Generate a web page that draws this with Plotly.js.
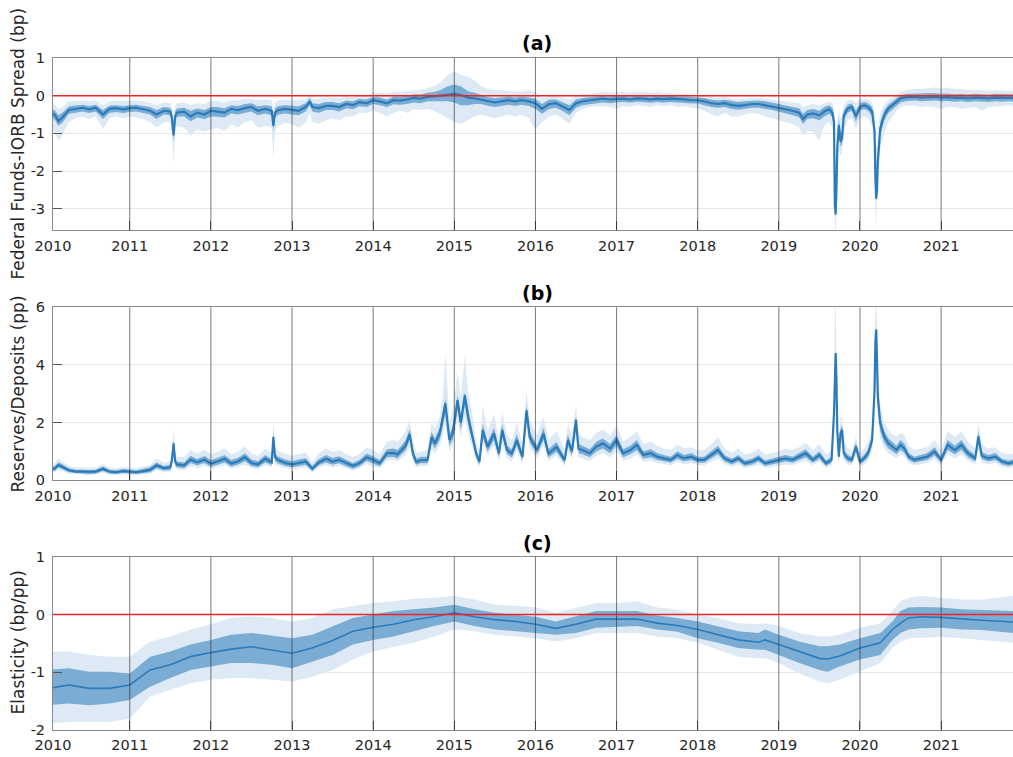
<!DOCTYPE html>
<html>
<head>
<meta charset="utf-8">
<script src="https://cdn.plot.ly/plotly-3.0.1.min.js"></script>
<style>html,body{margin:0;padding:0;background:#fff;}#chart{width:1013px;height:757px;}</style>
</head>
<body>
<div id="chart"></div>
<script>
// ---------------- Panel (a): Federal Funds-IORB spread (bp) ----------------
const tA = [2010.00,2010.08,2010.12,2010.17,2010.25,2010.33,2010.42,2010.50,2010.58,2010.67,2010.75,2010.83,2010.92,
2011.00,2011.08,2011.17,2011.25,2011.33,2011.42,2011.50,2011.52,2011.54,2011.56,2011.58,2011.67,2011.75,2011.83,2011.92,
2012.00,2012.08,2012.17,2012.25,2012.33,2012.42,2012.50,2012.58,2012.67,2012.75,2012.77,2012.79,2012.83,2012.92,
2013.00,2013.08,2013.17,2013.22,2013.25,2013.33,2013.42,2013.50,2013.58,2013.67,2013.75,2013.83,2013.92,
2014.00,2014.08,2014.17,2014.25,2014.33,2014.42,2014.50,2014.58,2014.67,2014.75,2014.83,2014.92,
2015.00,2015.08,2015.17,2015.25,2015.33,2015.42,2015.50,2015.58,2015.67,2015.75,2015.83,2015.92,
2016.00,2016.08,2016.17,2016.25,2016.33,2016.42,2016.50,2016.58,2016.67,2016.75,2016.83,2016.92,
2017.00,2017.08,2017.17,2017.25,2017.33,2017.42,2017.50,2017.58,2017.67,2017.75,2017.83,2017.92,
2018.00,2018.08,2018.17,2018.25,2018.33,2018.42,2018.50,2018.58,2018.67,2018.75,2018.83,2018.92,
2019.00,2019.08,2019.17,2019.25,2019.30,2019.35,2019.42,2019.50,2019.56,2019.62,2019.66,2019.68,2019.69,2019.70,2019.71,2019.72,2019.74,2019.76,2019.78,2019.80,2019.85,2019.90,2019.95,
2020.00,2020.05,2020.10,2020.15,2020.18,2020.19,2020.20,2020.21,2020.22,2020.25,2020.30,2020.35,2020.40,2020.45,2020.50,2020.58,2020.67,2020.75,2020.83,2020.92,
2021.00,2021.08,2021.17,2021.25,2021.33,2021.42,2021.50,2021.58,2021.67,2021.75,2021.83,2021.89];
const aMed = [-0.38,-0.52,-0.68,-0.58,-0.38,-0.35,-0.32,-0.36,-0.32,-0.50,-0.35,-0.33,-0.36,
-0.33,-0.32,-0.36,-0.40,-0.50,-0.40,-0.42,-0.60,-1.05,-0.55,-0.45,-0.42,-0.55,-0.45,-0.50,
-0.40,-0.42,-0.45,-0.35,-0.38,-0.33,-0.30,-0.40,-0.35,-0.40,-0.80,-0.45,-0.38,-0.35,
-0.38,-0.40,-0.30,-0.15,-0.30,-0.33,-0.27,-0.27,-0.30,-0.22,-0.25,-0.17,-0.20,
-0.12,-0.15,-0.20,-0.12,-0.13,-0.10,-0.06,-0.08,-0.03,-0.02,0.00,0.03,
0.05,0.02,-0.05,-0.07,-0.10,-0.15,-0.18,-0.15,-0.12,-0.15,-0.12,-0.15,
-0.20,-0.35,-0.22,-0.20,-0.28,-0.38,-0.20,-0.15,-0.12,-0.10,-0.08,-0.10,
-0.08,-0.08,-0.10,-0.07,-0.08,-0.10,-0.08,-0.09,-0.08,-0.10,-0.10,-0.12,
-0.12,-0.15,-0.20,-0.22,-0.20,-0.25,-0.27,-0.25,-0.22,-0.22,-0.25,-0.28,
-0.32,-0.36,-0.40,-0.45,-0.62,-0.50,-0.47,-0.52,-0.42,-0.36,-0.45,-0.70,-2.90,-3.15,-2.50,-1.40,-0.78,-1.22,-1.13,-0.52,-0.34,-0.30,-0.55,
-0.30,-0.25,-0.30,-0.42,-0.95,-2.20,-2.73,-2.50,-1.75,-0.87,-0.51,-0.34,-0.25,-0.16,-0.07,-0.04,-0.03,-0.05,-0.04,-0.03,
-0.05,-0.04,-0.06,-0.05,-0.07,-0.05,-0.06,-0.07,-0.05,-0.06,-0.05,-0.06];
const aLo68 = [-0.50,-0.65,-0.80,-0.72,-0.48,-0.45,-0.42,-0.46,-0.42,-0.62,-0.45,-0.43,-0.46,
-0.43,-0.42,-0.46,-0.50,-0.62,-0.50,-0.52,-0.75,-1.20,-0.70,-0.56,-0.55,-0.68,-0.58,-0.62,
-0.55,-0.56,-0.58,-0.47,-0.50,-0.45,-0.42,-0.52,-0.47,-0.52,-0.95,-0.58,-0.50,-0.47,
-0.50,-0.52,-0.42,-0.25,-0.42,-0.45,-0.38,-0.38,-0.42,-0.33,-0.36,-0.28,-0.30,
-0.22,-0.25,-0.30,-0.23,-0.24,-0.22,-0.18,-0.20,-0.15,-0.15,-0.15,-0.15,
-0.18,-0.25,-0.25,-0.22,-0.22,-0.27,-0.30,-0.28,-0.24,-0.27,-0.24,-0.27,
-0.35,-0.48,-0.35,-0.32,-0.40,-0.52,-0.32,-0.25,-0.22,-0.20,-0.18,-0.20,
-0.18,-0.17,-0.19,-0.16,-0.17,-0.19,-0.17,-0.18,-0.17,-0.19,-0.19,-0.21,
-0.21,-0.25,-0.30,-0.32,-0.30,-0.35,-0.37,-0.35,-0.32,-0.32,-0.35,-0.38,
-0.42,-0.47,-0.52,-0.57,-0.75,-0.62,-0.60,-0.65,-0.55,-0.48,-0.58,-0.90,-3.00,-3.20,-2.70,-1.60,-0.95,-1.35,-1.28,-0.65,-0.45,-0.40,-0.70,
-0.40,-0.35,-0.40,-0.55,-1.15,-2.40,-2.80,-2.70,-1.90,-1.05,-0.65,-0.46,-0.36,-0.27,-0.18,-0.14,-0.13,-0.15,-0.14,-0.13,
-0.15,-0.14,-0.16,-0.15,-0.17,-0.15,-0.16,-0.17,-0.15,-0.16,-0.15,-0.16];
const aHi68 = [-0.28,-0.40,-0.52,-0.45,-0.28,-0.26,-0.24,-0.27,-0.24,-0.38,-0.26,-0.25,-0.27,
-0.25,-0.24,-0.27,-0.30,-0.38,-0.30,-0.32,-0.45,-0.85,-0.42,-0.34,-0.32,-0.40,-0.34,-0.38,
-0.30,-0.30,-0.33,-0.25,-0.27,-0.22,-0.20,-0.28,-0.25,-0.28,-0.65,-0.33,-0.27,-0.25,
-0.27,-0.28,-0.20,-0.06,-0.20,-0.22,-0.17,-0.17,-0.20,-0.13,-0.15,-0.08,-0.10,
-0.03,-0.05,-0.10,-0.02,-0.03,0.00,0.04,0.03,0.08,0.10,0.15,0.25,
0.30,0.25,0.12,0.08,0.02,-0.04,-0.07,-0.05,-0.02,-0.05,-0.02,-0.05,
-0.08,-0.22,-0.10,-0.10,-0.18,-0.25,-0.10,-0.06,-0.04,-0.02,0.00,-0.02,
0.00,0.00,-0.02,0.01,0.00,-0.02,0.00,-0.01,0.00,-0.02,-0.02,-0.04,
-0.04,-0.06,-0.11,-0.13,-0.11,-0.15,-0.17,-0.15,-0.13,-0.13,-0.15,-0.18,
-0.22,-0.26,-0.30,-0.33,-0.48,-0.38,-0.35,-0.40,-0.30,-0.25,-0.32,-0.50,-2.40,-2.70,-2.10,-1.10,-0.60,-1.00,-0.90,-0.40,-0.24,-0.20,-0.40,
-0.20,-0.16,-0.20,-0.30,-0.70,-1.80,-2.20,-2.00,-1.40,-0.70,-0.38,-0.24,-0.16,-0.07,0.02,0.05,0.06,0.05,0.06,0.07,
0.05,0.06,0.04,0.05,0.03,0.05,0.04,0.03,0.05,0.04,0.05,0.04];
const aLo90 = [-0.75,-1.00,-1.20,-1.05,-0.70,-0.60,-0.55,-0.62,-0.55,-0.88,-0.60,-0.55,-0.60,
-0.55,-0.58,-0.62,-0.70,-0.85,-0.70,-0.72,-1.00,-1.80,-0.95,-0.80,-0.85,-1.05,-0.90,-0.95,
-0.90,-0.85,-0.95,-0.75,-0.85,-0.70,-0.65,-0.85,-0.80,-0.85,-1.65,-0.95,-0.80,-0.72,
-0.75,-0.85,-0.70,-0.45,-0.70,-0.75,-0.65,-0.60,-0.65,-0.55,-0.55,-0.45,-0.45,
-0.40,-0.45,-0.55,-0.45,-0.40,-0.45,-0.35,-0.38,-0.35,-0.40,-0.50,-0.60,
-0.70,-0.75,-0.65,-0.55,-0.50,-0.55,-0.60,-0.55,-0.50,-0.55,-0.50,-0.60,
-0.90,-0.70,-0.55,-0.50,-0.60,-0.75,-0.45,-0.35,-0.30,-0.30,-0.28,-0.30,
-0.35,-0.28,-0.30,-0.25,-0.28,-0.30,-0.25,-0.28,-0.25,-0.30,-0.28,-0.32,
-0.33,-0.40,-0.50,-0.55,-0.45,-0.55,-0.55,-0.50,-0.45,-0.48,-0.55,-0.60,
-0.65,-0.70,-0.75,-0.85,-1.05,-0.95,-0.95,-1.20,-0.80,-0.70,-0.85,-1.20,-3.50,-3.60,-3.20,-2.20,-1.40,-1.60,-1.50,-0.95,-0.65,-0.60,-0.90,
-0.60,-0.55,-0.60,-0.80,-1.50,-3.00,-3.50,-3.20,-2.30,-1.40,-1.00,-0.70,-0.55,-0.40,-0.30,-0.25,-0.25,-0.30,-0.28,-0.30,
-0.35,-0.30,-0.30,-0.35,-0.32,-0.30,-0.40,-0.30,-0.28,-0.28,-0.25,-0.28];
const aHi90 = [-0.15,-0.25,-0.35,-0.30,-0.15,-0.15,-0.12,-0.15,-0.12,-0.25,-0.15,-0.13,-0.15,
-0.13,-0.12,-0.15,-0.18,-0.25,-0.18,-0.20,-0.30,-0.50,-0.28,-0.20,-0.18,-0.25,-0.20,-0.22,
-0.15,-0.15,-0.18,-0.12,-0.12,-0.08,-0.08,-0.12,-0.10,-0.12,-0.35,-0.20,-0.12,-0.10,
-0.12,-0.12,-0.08,0.02,-0.08,-0.08,-0.05,-0.05,-0.06,-0.02,-0.04,0.02,0.02,
0.08,0.08,0.05,0.10,0.10,0.12,0.15,0.15,0.20,0.25,0.35,0.55,
0.65,0.55,0.50,0.40,0.25,0.18,0.15,0.15,0.12,0.12,0.10,0.15,
0.10,-0.05,0.00,0.00,-0.05,-0.10,0.00,0.05,0.05,0.08,0.10,0.08,
0.10,0.10,0.08,0.10,0.10,0.08,0.10,0.08,0.07,0.05,0.05,0.03,
0.02,0.00,-0.03,-0.05,-0.03,-0.08,-0.10,-0.08,-0.06,-0.06,-0.08,-0.10,
-0.12,-0.15,-0.18,-0.20,-0.30,-0.25,-0.22,-0.25,-0.20,-0.15,-0.20,-0.35,-1.50,-1.80,-1.20,-0.70,-0.40,-0.60,-0.55,-0.25,-0.12,-0.10,-0.20,
-0.10,-0.08,-0.10,-0.18,-0.40,-1.10,-1.40,-1.30,-0.90,-0.45,-0.25,-0.12,-0.05,0.02,0.10,0.15,0.18,0.18,0.20,0.22,
0.20,0.22,0.18,0.18,0.15,0.15,0.15,0.12,0.15,0.12,0.12,0.12];

// ---------------- Panel (b): Reserves/Deposits (pp) ----------------
const tB = [2010.00,2010.08,2010.12,2010.17,2010.25,2010.33,2010.42,2010.50,2010.58,2010.67,2010.75,2010.83,2010.92,
2011.00,2011.08,2011.17,2011.25,2011.33,2011.42,2011.50,2011.52,2011.54,2011.56,2011.58,2011.67,2011.75,2011.83,2011.92,
2012.00,2012.08,2012.17,2012.25,2012.33,2012.42,2012.50,2012.58,2012.67,2012.75,2012.77,2012.79,2012.83,2012.92,
2013.00,2013.08,2013.17,2013.25,2013.33,2013.42,2013.50,2013.58,2013.67,2013.75,2013.83,2013.92,
2014.00,2014.08,2014.17,2014.25,2014.30,2014.35,2014.40,2014.45,2014.49,2014.53,2014.59,2014.67,2014.72,2014.76,2014.82,2014.86,2014.89,2014.94,2014.98,
2015.04,2015.08,2015.13,2015.17,2015.21,2015.27,2015.31,2015.35,2015.41,2015.49,2015.55,2015.59,2015.65,2015.71,2015.77,2015.84,2015.89,2015.93,
2016.02,2016.10,2016.16,2016.26,2016.36,2016.40,2016.45,2016.50,2016.53,2016.58,2016.67,2016.75,2016.83,2016.92,
2017.00,2017.08,2017.17,2017.25,2017.33,2017.42,2017.50,2017.58,2017.67,2017.75,2017.83,2017.92,
2018.00,2018.08,2018.17,2018.25,2018.33,2018.42,2018.50,2018.58,2018.67,2018.75,2018.83,2018.92,
2019.00,2019.08,2019.17,2019.25,2019.33,2019.42,2019.50,2019.58,2019.65,2019.68,2019.69,2019.70,2019.71,2019.72,2019.74,2019.76,2019.78,2019.80,2019.85,2019.90,2019.95,
2020.00,2020.05,2020.10,2020.15,2020.18,2020.19,2020.20,2020.21,2020.22,2020.25,2020.30,2020.35,2020.40,2020.45,2020.50,2020.55,2020.60,2020.67,2020.75,2020.83,2020.92,
2021.00,2021.08,2021.17,2021.25,2021.33,2021.42,2021.46,2021.50,2021.58,2021.67,2021.75,2021.83,2021.89];
const bMed = [0.36,0.42,0.53,0.47,0.35,0.30,0.30,0.28,0.30,0.40,0.30,0.28,0.32,
0.30,0.28,0.32,0.36,0.52,0.42,0.45,0.70,1.28,0.65,0.55,0.52,0.72,0.62,0.72,
0.58,0.65,0.75,0.58,0.65,0.80,0.60,0.55,0.75,0.62,1.50,0.80,0.70,0.60,
0.55,0.60,0.65,0.40,0.62,0.75,0.65,0.71,0.59,0.50,0.59,0.80,
0.71,0.59,0.94,0.95,0.90,1.05,1.20,1.60,0.93,0.64,0.70,0.70,1.50,1.28,1.62,2.20,2.67,1.40,1.62,
2.78,2.00,2.95,2.20,1.68,0.93,0.64,1.74,1.16,1.62,0.93,1.74,1.05,0.93,1.40,0.81,2.43,1.50,
1.05,1.62,0.93,1.16,0.70,1.40,1.00,2.10,1.10,1.05,0.94,1.17,1.28,1.10,
1.40,0.94,1.05,1.23,0.88,0.94,0.82,0.76,0.71,0.88,0.76,0.82,
0.71,0.71,0.88,1.05,0.76,0.65,0.76,0.59,0.65,0.76,0.59,0.65,
0.71,0.76,0.71,0.82,0.94,0.71,0.88,0.59,0.71,2.33,4.20,4.41,3.50,1.75,0.82,1.63,1.75,0.94,0.76,0.71,1.17,
0.65,0.76,0.94,1.40,3.13,4.80,5.23,4.20,2.90,1.98,1.52,1.28,1.17,1.05,1.23,1.10,0.82,0.71,0.76,0.82,1.00,
0.71,1.23,1.05,1.23,0.94,0.76,1.52,0.85,0.76,0.82,0.65,0.59,0.62];
const bLo68 = [0.29,0.34,0.44,0.38,0.28,0.24,0.24,0.22,0.24,0.32,0.24,0.22,0.25,
0.24,0.22,0.25,0.28,0.42,0.34,0.36,0.56,1.08,0.52,0.45,0.42,0.60,0.52,0.60,
0.47,0.54,0.62,0.48,0.54,0.66,0.50,0.45,0.62,0.52,1.30,0.66,0.58,0.50,
0.45,0.50,0.54,0.32,0.52,0.62,0.54,0.59,0.49,0.40,0.49,0.67,
0.59,0.49,0.80,0.81,0.76,0.90,1.03,1.40,0.79,0.54,0.59,0.59,1.30,1.10,1.40,1.90,2.30,1.20,1.40,
2.45,1.75,2.60,1.95,1.45,0.79,0.54,1.50,0.99,1.40,0.79,1.50,0.90,0.79,1.20,0.69,2.10,1.30,
0.90,1.40,0.79,0.99,0.59,1.20,0.86,1.80,0.94,0.90,0.80,1.00,1.10,0.94,
1.20,0.80,0.90,1.05,0.75,0.80,0.70,0.65,0.61,0.75,0.65,0.70,
0.61,0.61,0.75,0.90,0.65,0.55,0.65,0.50,0.55,0.65,0.50,0.55,
0.61,0.65,0.61,0.70,0.80,0.61,0.75,0.50,0.61,2.00,3.70,3.90,3.00,1.50,0.70,1.40,1.50,0.80,0.65,0.61,1.00,
0.55,0.65,0.80,1.20,2.70,4.20,4.60,3.70,2.50,1.70,1.30,1.10,1.00,0.90,1.05,0.94,0.70,0.61,0.65,0.70,0.86,
0.61,1.05,0.90,1.05,0.80,0.65,1.30,0.73,0.65,0.70,0.55,0.50,0.53];
const bHi68 = [0.44,0.50,0.62,0.56,0.42,0.37,0.37,0.35,0.37,0.48,0.37,0.35,0.39,
0.37,0.35,0.40,0.45,0.62,0.50,0.54,0.84,1.40,0.78,0.65,0.62,0.85,0.74,0.84,
0.70,0.77,0.88,0.70,0.77,0.94,0.72,0.66,0.88,0.74,1.65,0.94,0.82,0.72,
0.66,0.72,0.77,0.50,0.74,0.88,0.77,0.83,0.70,0.60,0.70,0.93,
0.83,0.70,1.08,1.10,1.05,1.20,1.38,1.78,1.08,0.76,0.82,0.82,1.68,1.45,1.82,2.45,2.85,1.60,1.85,
2.95,2.25,3.05,2.45,1.90,1.08,0.76,1.95,1.33,1.82,1.08,1.95,1.20,1.08,1.60,0.95,2.60,1.70,
1.20,1.82,1.08,1.33,0.82,1.60,1.15,2.25,1.26,1.20,1.08,1.34,1.45,1.26,
1.58,1.08,1.20,1.40,1.01,1.08,0.95,0.88,0.82,1.01,0.88,0.95,
0.82,0.82,1.01,1.20,0.88,0.75,0.88,0.69,0.75,0.88,0.69,0.75,
0.82,0.88,0.82,0.95,1.08,0.82,1.01,0.69,0.82,2.50,4.35,4.50,3.70,1.95,0.95,1.80,1.90,1.08,0.88,0.82,1.30,
0.75,0.88,1.08,1.58,3.30,5.00,5.30,4.40,3.10,2.20,1.70,1.45,1.34,1.20,1.40,1.26,0.95,0.82,0.88,0.95,1.15,
0.82,1.40,1.20,1.40,1.08,0.88,1.70,0.98,0.88,0.95,0.75,0.69,0.72];
const bLo90 = [0.24,0.28,0.36,0.31,0.23,0.20,0.19,0.18,0.19,0.26,0.19,0.18,0.20,
0.19,0.18,0.20,0.22,0.35,0.28,0.30,0.46,0.90,0.42,0.38,0.35,0.50,0.42,0.50,
0.40,0.45,0.52,0.40,0.45,0.55,0.42,0.38,0.52,0.44,1.05,0.55,0.48,0.42,
0.38,0.42,0.45,0.26,0.44,0.52,0.45,0.50,0.42,0.34,0.42,0.56,
0.50,0.42,0.68,0.70,0.65,0.76,0.88,1.15,0.67,0.46,0.50,0.50,1.10,0.92,1.20,1.60,1.95,1.00,1.20,
2.10,1.50,2.20,1.65,1.25,0.67,0.46,1.30,0.85,1.20,0.67,1.30,0.76,0.67,1.02,0.58,1.80,1.10,
0.76,1.20,0.67,0.85,0.50,1.02,0.73,1.50,0.80,0.76,0.68,0.85,0.95,0.80,
1.02,0.68,0.76,0.90,0.64,0.68,0.60,0.55,0.52,0.64,0.55,0.60,
0.52,0.52,0.64,0.76,0.55,0.47,0.55,0.43,0.47,0.55,0.43,0.47,
0.52,0.55,0.52,0.60,0.68,0.52,0.64,0.43,0.52,1.70,3.00,3.20,2.50,1.30,0.60,1.20,1.30,0.68,0.55,0.52,0.85,
0.47,0.55,0.68,1.02,2.30,3.50,3.80,3.20,2.10,1.45,1.10,0.92,0.85,0.76,0.90,0.80,0.60,0.52,0.55,0.60,0.73,
0.52,0.90,0.76,0.90,0.68,0.55,1.10,0.62,0.55,0.60,0.47,0.43,0.45];
const bHi90 = [0.52,0.60,0.75,0.66,0.50,0.44,0.44,0.42,0.44,0.56,0.44,0.42,0.46,
0.44,0.42,0.48,0.54,0.76,0.62,0.65,1.00,1.75,0.95,0.80,0.82,1.05,0.92,1.05,
0.90,0.98,1.10,0.90,0.98,1.18,0.92,0.85,1.10,0.95,2.00,1.20,1.02,0.92,
0.85,0.90,0.98,0.62,0.95,1.10,0.98,1.05,0.90,0.80,0.90,1.15,
1.05,0.90,1.35,1.40,1.35,1.50,1.70,2.10,1.40,0.95,1.00,1.05,2.00,1.80,2.20,3.00,4.40,2.00,2.40,
3.70,2.90,4.35,3.10,2.50,1.40,0.95,2.60,1.70,2.30,1.40,2.40,1.55,1.40,2.00,1.25,3.10,2.10,
1.55,2.20,1.40,1.70,1.05,1.95,1.50,2.60,1.60,1.50,1.40,1.65,1.75,1.55,
1.90,1.35,1.50,1.70,1.25,1.35,1.20,1.10,1.05,1.25,1.10,1.15,
1.05,1.05,1.25,1.50,1.10,0.95,1.10,0.90,0.95,1.10,0.90,0.95,
1.00,1.10,1.05,1.15,1.30,1.05,1.25,0.90,1.00,3.00,6.00,6.00,4.50,2.60,1.30,2.20,2.20,1.40,1.10,1.00,1.50,
0.95,1.10,1.30,1.90,4.50,6.00,6.00,5.50,4.00,2.60,2.00,1.75,1.60,1.50,1.65,1.55,1.20,1.05,1.10,1.15,1.40,
1.05,1.70,1.50,1.70,1.35,1.10,2.00,1.25,1.10,1.15,0.95,0.90,0.92];

// ---------------- Panel (c): Elasticity (bp/pp) ----------------
const tC = [2010.00,2010.25,2010.50,2010.75,2011.00,2011.25,2011.50,2011.75,2012.00,2012.25,2012.50,2012.75,
2013.00,2013.25,2013.50,2013.75,2014.00,2014.25,2014.50,2014.75,2015.00,2015.25,2015.50,2015.75,
2016.00,2016.25,2016.50,2016.75,2017.00,2017.25,2017.50,2017.75,2018.00,2018.25,2018.50,2018.75,2018.83,
2019.00,2019.25,2019.50,2019.60,2019.75,2020.00,2020.25,2020.40,2020.50,2020.60,2020.75,2021.00,2021.25,2021.50,2021.89];
const cMed = [-1.28,-1.22,-1.28,-1.28,-1.22,-0.96,-0.87,-0.73,-0.66,-0.60,-0.56,-0.61,
-0.67,-0.58,-0.45,-0.29,-0.22,-0.17,-0.09,-0.04,0.03,-0.04,-0.09,-0.12,
-0.17,-0.24,-0.17,-0.08,-0.08,-0.08,-0.15,-0.19,-0.26,-0.35,-0.44,-0.48,-0.44,
-0.52,-0.64,-0.76,-0.77,-0.72,-0.58,-0.49,-0.26,-0.15,-0.06,-0.04,-0.05,-0.08,-0.10,-0.13];
const cLo68 = [-1.57,-1.54,-1.57,-1.54,-1.48,-1.25,-1.10,-0.96,-0.90,-0.84,-0.84,-0.87,
-0.93,-0.81,-0.70,-0.52,-0.44,-0.38,-0.29,-0.20,-0.12,-0.20,-0.26,-0.29,
-0.32,-0.35,-0.32,-0.23,-0.22,-0.20,-0.26,-0.30,-0.41,-0.49,-0.58,-0.61,-0.61,
-0.70,-0.84,-0.96,-0.99,-0.90,-0.78,-0.70,-0.44,-0.32,-0.26,-0.24,-0.23,-0.26,-0.27,-0.32];
const cHi68 = [-0.96,-0.93,-0.99,-0.99,-1.02,-0.73,-0.64,-0.52,-0.44,-0.35,-0.32,-0.37,
-0.41,-0.35,-0.20,-0.06,0.00,0.06,0.09,0.12,0.17,0.09,0.03,0.00,
-0.04,-0.12,-0.03,0.06,0.06,0.06,-0.02,-0.06,-0.12,-0.20,-0.29,-0.32,-0.26,
-0.35,-0.47,-0.55,-0.55,-0.52,-0.41,-0.32,-0.12,0.06,0.12,0.13,0.12,0.09,0.08,0.06];
const cLo90 = [-1.89,-1.86,-1.86,-1.86,-1.80,-1.42,-1.31,-1.19,-1.13,-1.10,-1.10,-1.13,
-1.16,-1.08,-0.96,-0.78,-0.64,-0.56,-0.49,-0.38,-0.26,-0.29,-0.35,-0.38,
-0.41,-0.47,-0.41,-0.32,-0.32,-0.32,-0.38,-0.41,-0.49,-0.61,-0.73,-0.76,-0.76,
-0.84,-1.02,-1.16,-1.19,-1.13,-0.99,-0.84,-0.58,-0.47,-0.41,-0.41,-0.39,-0.41,-0.44,-0.49];
const cHi90 = [-0.64,-0.64,-0.70,-0.73,-0.73,-0.47,-0.38,-0.26,-0.17,-0.06,-0.03,-0.06,
-0.12,-0.06,0.09,0.15,0.20,0.23,0.27,0.29,0.32,0.26,0.17,0.15,
0.12,0.03,0.12,0.20,0.20,0.23,0.12,0.08,0.00,-0.06,-0.15,-0.17,-0.15,
-0.20,-0.32,-0.38,-0.38,-0.35,-0.23,-0.15,0.06,0.23,0.29,0.32,0.29,0.26,0.26,0.32];

// x-axis: data window starts a few weeks into 2010; first tick label sits at the axis start
const X0 = 2010.054, X1 = 2021.886;
const yearTicks = [X0,2011,2012,2013,2014,2015,2016,2017,2018,2019,2020,2021];
const yearLabels = ['2010','2011','2012','2013','2014','2015','2016','2017','2018','2019','2020','2021'];
const yearLines = [2011,2012,2013,2014,2015,2016,2017,2018,2019,2020,2021];

// ---------------- styling ----------------
const COL_MED = '#2b7bba', COL_DARK = 'rgb(123,173,212)', COL_LIGHT = 'rgb(221,233,244)';
const FONT = 'DejaVu Sans, Liberation Sans, sans-serif';

function band(t, lo, hi, color, xa, ya) {
  return {x: t.concat(t.slice().reverse()), y: hi.concat(lo.slice().reverse()),
    type: 'scatter', mode: 'lines', fill: 'toself', fillcolor: color,
    line: {width: 0, color: color}, hoverinfo: 'skip', showlegend: false, xaxis: xa, yaxis: ya};
}
function med(t, y, w, xa, ya) {
  return {x: t, y: y, type: 'scatter', mode: 'lines', line: {color: COL_MED, width: w},
    showlegend: false, xaxis: xa, yaxis: ya};
}

const traces = [
  band(tA, aLo90, aHi90, COL_LIGHT, 'x', 'y'), band(tA, aLo68, aHi68, COL_DARK, 'x', 'y'), med(tA, aMed, 2.2, 'x', 'y'),
  band(tB, bLo90, bHi90, COL_LIGHT, 'x2', 'y2'), band(tB, bLo68, bHi68, COL_DARK, 'x2', 'y2'), med(tB, bMed, 2.2, 'x2', 'y2'),
  band(tC, cLo90, cHi90, COL_LIGHT, 'x3', 'y3'), band(tC, cLo68, cHi68, COL_DARK, 'x3', 'y3'), med(tC, cMed, 1.6, 'x3', 'y3')
];

function xax(anchor) {
  return {anchor: anchor, domain: [0, 1], range: [X0, X1], tickmode: 'array', tickvals: yearTicks, ticktext: yearLabels,
    showgrid: false, zeroline: false, showline: true, linecolor: '#8a8a8a', linewidth: 1, mirror: true,
    ticks: 'inside', ticklen: 9, tickcolor: '#555', ticklabelstandoff: 2,
    tickfont: {family: FONT, size: 14.5, color: '#262626'}};
}
function yax(anchor, dom, rng, vals) {
  return {anchor: anchor, domain: dom, range: rng, tickmode: 'array', tickvals: vals, ticktext: vals.map(v => String(v)),
    showgrid: true, gridcolor: '#e6e6e6', gridwidth: 1, zeroline: false, showline: true, linecolor: '#8a8a8a', linewidth: 1,
    ticks: 'inside', ticklen: 9, tickcolor: '#555', ticklabelstandoff: 4,
    tickfont: {family: FONT, size: 14.5, color: '#262626'}};
}
const H = 757;
const dom = (top, bot) => [1 - bot / H, 1 - top / H];

const shapes = [];
[['x', 'y'], ['x2', 'y2'], ['x3', 'y3']].forEach(([xa, ya]) => {
  yearLines.forEach(yr => shapes.push({type: 'line', xref: xa, yref: ya + ' domain', x0: yr, x1: yr, y0: 0, y1: 1,
    line: {color: 'rgba(40,40,40,0.62)', width: 1}, layer: 'above'}));
});
[['x', 'y'], ['x3', 'y3']].forEach(([xa, ya]) => shapes.push({type: 'line', xref: xa + ' domain', yref: ya, x0: 0, x1: 1, y0: 0, y1: 0,
  line: {color: 'rgb(240,35,35)', width: 1.5}, layer: 'above'}));

const PX = x => (x - 53) / 960;
const PY = y => 1 - y / H;
const annotations = [
  {text: '<b>(a)</b>', x: PX(537), y: PY(43.5)}, {text: '<b>(b)</b>', x: PX(537), y: PY(293)}, {text: '<b>(c)</b>', x: PX(537), y: PY(543)}
].map(a => Object.assign(a, {xref: 'paper', yref: 'paper', showarrow: false, xanchor: 'center', yanchor: 'middle',
  font: {family: FONT, size: 19, color: '#000'}}));
[['Federal Funds-IORB Spread (bp)', 144], ['Reserves/Deposits (pp)', 394], ['Elasticity (bp/pp)', 643]].forEach(([t, yc]) =>
  annotations.push({text: t, xref: 'paper', yref: 'paper', x: PX(17.5), y: PY(yc), textangle: -90, showarrow: false,
    xanchor: 'center', yanchor: 'middle', font: {family: FONT, size: 17, color: '#262626'}}));

const layout = {
  width: 1013, height: 757, margin: {l: 53, r: 0, t: 0, b: 0}, paper_bgcolor: '#fff', plot_bgcolor: '#fff',
  showlegend: false, font: {family: FONT},
  xaxis: xax('y'), yaxis: yax('x', dom(58, 230.3), [-3.57, 1], [-3, -2, -1, 0, 1]),
  xaxis2: xax('y2'), yaxis2: yax('x2', dom(307.3, 480.3), [0, 6], [0, 2, 4, 6]),
  xaxis3: xax('y3'), yaxis3: yax('x3', dom(556.7, 730), [-2, 1], [-2, -1, 0, 1]),
  shapes: shapes, annotations: annotations
};
Plotly.newPlot('chart', traces, layout, {staticPlot: true, displayModeBar: false});
</script>
</body>
</html>
